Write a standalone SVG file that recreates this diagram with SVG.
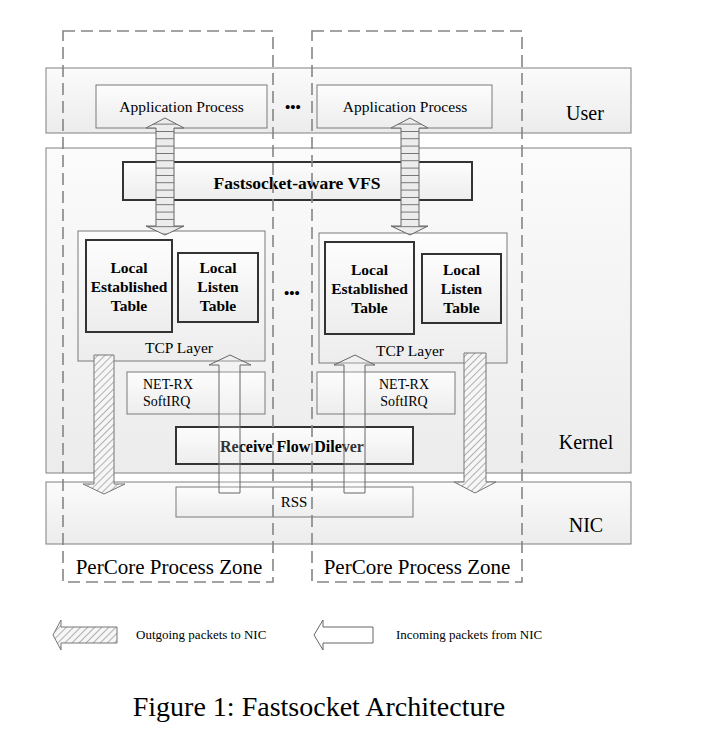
<svg xmlns="http://www.w3.org/2000/svg" width="703" height="730" viewBox="0 0 703 730">
<defs>
<linearGradient id="gBand" x1="0" y1="0" x2="0" y2="1">
<stop offset="0" stop-color="#fbfbfb"/>
<stop offset="1" stop-color="#ececec"/>
</linearGradient>
<linearGradient id="gBox" x1="0" y1="0" x2="0" y2="1">
<stop offset="0" stop-color="#fdfdfd"/>
<stop offset="1" stop-color="#ededed"/>
</linearGradient>
<pattern id="hatch" patternUnits="userSpaceOnUse" width="5" height="5" patternTransform="rotate(45)">
<rect width="5" height="5" fill="#f6f6f6"/>
<line x1="0" y1="0" x2="0" y2="5" stroke="#6a6a6a" stroke-width="1"/>
</pattern>
<pattern id="stripes" patternUnits="userSpaceOnUse" x="0" y="138.3" width="10" height="7.33">
<rect width="10" height="7.33" fill="#ececec"/>
<line x1="0" y1="0.3" x2="10" y2="0.3" stroke="#444" stroke-width="0.9"/>
</pattern>
</defs>
<style>
.band{fill:url(#gBand);stroke:#808080;stroke-width:1}
.box{fill:url(#gBox);stroke:#7a7a7a;stroke-width:1}
.tbox{fill:url(#gBox);stroke:#333;stroke-width:2}
.zone{fill:none;stroke:#858585;stroke-width:1.6;stroke-dasharray:12 6}
.t{font-family:"Liberation Serif","Times New Roman",serif;fill:#000}
.b{font-weight:bold}
.out{fill:url(#hatch);stroke:#777;stroke-width:1}
.in{fill:#ffffff;fill-opacity:0.2;stroke:#666;stroke-width:1}
.dbl{fill:url(#stripes);stroke:#666;stroke-width:1}
</style>

<g id="band-user">
<rect class="band" x="46" y="68" width="585" height="65"/>
<text class="t" x="585" y="120" font-size="20" text-anchor="middle">User</text>
</g>
<g id="band-kernel">
<rect class="band" x="46" y="148" width="585" height="325"/>
<text class="t" x="586" y="449" font-size="20" text-anchor="middle">Kernel</text>
</g>
<g id="band-nic">
<rect class="band" x="46" y="482" width="585" height="62"/>
<text class="t" x="586" y="532" font-size="20" text-anchor="middle">NIC</text>
</g>

<g id="app1">
<rect class="box" x="96" y="85" width="171" height="43"/>
<text class="t" x="181.5" y="112" font-size="15.5" text-anchor="middle">Application Process</text>
</g>
<g id="app2">
<rect class="box" x="317" y="85" width="175" height="43"/>
<text class="t" x="405" y="112" font-size="15.5" text-anchor="middle">Application Process</text>
</g>
<g id="dots1"><text class="t b" x="293" y="112" font-size="15" text-anchor="middle">•••</text></g>

<g id="vfs">
<rect class="tbox" x="123" y="162" width="349" height="38"/>
<text class="t b" x="297" y="189" font-size="17.5" text-anchor="middle">Fastsocket-aware VFS</text>
</g>

<g id="tcp1">
<rect class="box" x="78" y="231" width="187" height="130"/>
<text class="t" x="179" y="353" font-size="15.5" text-anchor="middle">TCP Layer</text>
</g>
<g id="est1">
<rect class="tbox" x="86" y="240" width="86" height="92"/>
<text class="t b" x="129" y="273" font-size="15.5" text-anchor="middle">Local</text>
<text class="t b" x="129" y="292" font-size="15.5" text-anchor="middle">Established</text>
<text class="t b" x="129" y="311" font-size="15.5" text-anchor="middle">Table</text>
</g>
<g id="lis1">
<rect class="tbox" x="178" y="253" width="80" height="69"/>
<text class="t b" x="218" y="273" font-size="15.5" text-anchor="middle">Local</text>
<text class="t b" x="218" y="292" font-size="15.5" text-anchor="middle">Listen</text>
<text class="t b" x="218" y="311" font-size="15.5" text-anchor="middle">Table</text>
</g>
<g id="tcp2">
<rect class="box" x="319" y="233" width="188" height="130"/>
<text class="t" x="410" y="356" font-size="15.5" text-anchor="middle">TCP Layer</text>
</g>
<g id="est2">
<rect class="tbox" x="325" y="242" width="89" height="92"/>
<text class="t b" x="369.5" y="275" font-size="15.5" text-anchor="middle">Local</text>
<text class="t b" x="369.5" y="294" font-size="15.5" text-anchor="middle">Established</text>
<text class="t b" x="369.5" y="313" font-size="15.5" text-anchor="middle">Table</text>
</g>
<g id="lis2">
<rect class="tbox" x="422" y="254" width="79" height="69"/>
<text class="t b" x="461.5" y="275" font-size="15.5" text-anchor="middle">Local</text>
<text class="t b" x="461.5" y="294" font-size="15.5" text-anchor="middle">Listen</text>
<text class="t b" x="461.5" y="313" font-size="15.5" text-anchor="middle">Table</text>
</g>
<g id="dots2"><text class="t b" x="292" y="298" font-size="15" text-anchor="middle">•••</text></g>

<g id="netrx1">
<rect class="box" x="127" y="372" width="138" height="42"/>
<text class="t" x="143" y="389" font-size="14">NET-RX</text>
<text class="t" x="143" y="406" font-size="14">SoftIRQ</text>
</g>
<g id="netrx2">
<rect class="box" x="317" y="372" width="138" height="42"/>
<text class="t" x="404" y="389" font-size="14" text-anchor="middle">NET-RX</text>
<text class="t" x="404" y="406" font-size="14" text-anchor="middle">SoftIRQ</text>
</g>

<g id="rfd">
<rect class="tbox" x="176" y="427" width="237" height="37"/>
<text class="t b" x="292" y="452" font-size="16" text-anchor="middle">Receive Flow Dilever</text>
</g>
<g id="rss">
<rect class="box" x="176" y="487" width="237" height="30"/>
<text class="t" x="294" y="507" font-size="15" text-anchor="middle">RSS</text>
</g>

<g id="connectors">
<polygon class="dbl" points="165,118 184,128 174,128 174,226 184,226 165,235 146,226 156,226 156,128 146,128"/>
<polygon class="dbl" points="410,118 428,128 419,128 419,226 428,226 410,235 391,226 401,226 401,128 391,128"/>
<polygon class="out" points="94,355 114,355 114,484 125,484 104,494 83,484 94,484"/>
<polygon class="out" points="464,353 486,353 486,482 496,482 475,493 454,482 464,482"/>
<polygon class="in" points="230,355 251,365 240,365 240,493 219,493 219,365 209,365"/>
<polygon class="in" points="355,355 375,365 365,365 365,493 344,493 344,365 334,365"/>
</g>

<g id="zone1">
<rect class="zone" x="63" y="31" width="210" height="551"/>
<text class="t" x="169" y="574" font-size="21" text-anchor="middle">PerCore Process Zone</text>
</g>
<g id="zone2">
<rect class="zone" x="312" y="31" width="210" height="551"/>
<text class="t" x="417" y="574" font-size="21" text-anchor="middle">PerCore Process Zone</text>
</g>

<g id="legend">
<polygon class="out" points="53,635 61,620 61,627 117,627 117,643 61,643 61,650"/>
<text class="t" x="136" y="639" font-size="13">Outgoing packets to NIC</text>
<polygon points="314,635 323,620 323,627 373,627 373,643 323,643 323,650" fill="#fff" stroke="#666" stroke-width="1"/>
<text class="t" x="396" y="639" font-size="13">Incoming packets from NIC</text>
</g>

<text class="t" x="319" y="716" font-size="28" text-anchor="middle">Figure 1: Fastsocket Architecture</text>
</svg>
